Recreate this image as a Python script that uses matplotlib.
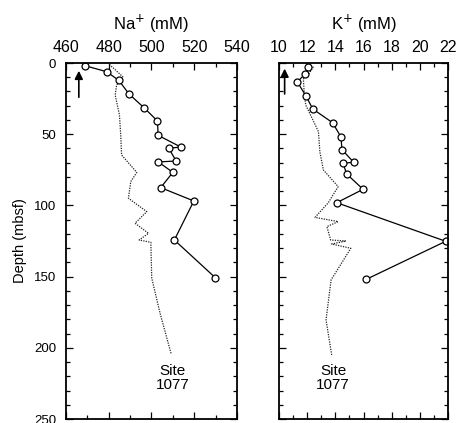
import matplotlib
matplotlib.use("Agg")
import matplotlib.pyplot as plt
from matplotlib.ticker import MultipleLocator

plt.rcParams['font.family'] = ['Liberation Sans', 'DejaVu Sans']

# Na+ measured (open circles)
na_vals = [468.9, 479.0, 484.7, 489.5, 496.5, 502.8, 503.1, 513.7, 508.1, 511.5, 503.2, 510.0, 504.3, 519.8, 510.7, 529.8]
na_depth = [1.9, 6.1, 12.2, 21.8, 31.4, 40.7, 50.8, 59.0, 59.9, 68.8, 69.5, 76.8, 87.5, 96.9, 124.3, 150.7]

# Na+ Site 1077 (dotted)
na1077_vals = [480.3, 486.8, 483.7, 483.0, 485.0, 485.6, 486.0, 493.1, 490.3, 489.2, 497.8, 492.3, 498.6, 494.2, 499.7, 500.1, 504.0, 509.2]
na1077_depth = [1.0, 10.0, 15.4, 22.5, 36.5, 50.5, 64.6, 76.8, 83.3, 95.0, 104.4, 112.5, 119.6, 124.3, 125.9, 151.0, 175.7, 204.3]

# K+ measured (open circles)
k_vals = [12.08, 11.85, 11.3, 11.9, 12.4, 13.8, 14.4, 14.47, 15.3, 14.55, 14.8, 15.97, 14.1, 21.84, 16.2]
k_depth = [3.0, 7.7, 13.3, 22.9, 32.3, 41.9, 51.9, 60.8, 69.7, 70.4, 77.9, 88.7, 98.1, 125.2, 151.9]

# K+ Site 1077 (dotted)
k1077_vals = [12.44, 12.15, 11.73, 11.8, 11.9, 12.8, 12.9, 13.15, 14.2, 13.5, 12.56, 14.2, 13.4, 13.67, 14.76, 13.74, 15.1, 13.7, 13.34, 13.74]
k1077_depth = [2.6, 7.2, 11.2, 22.5, 29.5, 48.2, 62.3, 75.1, 86.8, 98.1, 108.4, 111.4, 114.9, 124.3, 125.0, 127.1, 130.1, 152.3, 180.4, 205.0]

na_ticks = [460, 480, 500, 520, 540]
k_ticks = [10, 12, 14, 16, 18, 20, 22]
depth_ticks = [0, 50, 100, 150, 200, 250]

W, H = 464, 423
fig = plt.figure(figsize=(W / 100, H / 100), dpi=100)
top, bot = 63, 419
ax1 = fig.add_axes([66 / W, 1 - bot / H, (237 - 66) / W, (bot - top) / H])
ax2 = fig.add_axes([279 / W, 1 - bot / H, (448 - 279) / W, (bot - top) / H])


def style(ax, xlim, xmaj, xmin, ticks):
    ax.set_xlim(*xlim)
    ax.set_ylim(250, 0)
    ax.xaxis.set_major_locator(MultipleLocator(xmaj))
    ax.xaxis.set_minor_locator(MultipleLocator(xmin))
    ax.set_xticks(ticks)
    ax.yaxis.set_major_locator(MultipleLocator(50))
    ax.yaxis.set_minor_locator(MultipleLocator(10))
    ax.xaxis.tick_top()
    ax.xaxis.set_label_position('top')
    ax.tick_params(which='both', direction='in', top=True, bottom=True, left=True, right=True, width=0.9)
    ax.tick_params(which='major', length=5)
    ax.tick_params(which='minor', length=3)
    ax.tick_params(axis='x', labelsize=11.5, pad=6)
    ax.tick_params(axis='y', labelsize=9.5, pad=7)
    for s in ax.spines.values():
        s.set_linewidth(1.3)


style(ax1, (460, 540), 20, 10, na_ticks)
style(ax2, (10, 22), 2, 1, k_ticks)
ax2.tick_params(axis='y', labelleft=False)
ax1.set_yticks(depth_ticks)

ax1.plot(na1077_vals, na1077_depth, ls=(0, (1, 1.0)), color='#222222', lw=0.9)
ax1.plot(na_vals, na_depth, '-o', color='black', lw=0.9, ms=5, mfc='white', mec='black', mew=0.9)
ax2.plot(k1077_vals, k1077_depth, ls=(0, (1, 1.0)), color='#222222', lw=0.9)
ax2.plot(k_vals, k_depth, '-o', color='black', lw=0.9, ms=5, mfc='white', mec='black', mew=0.9)

ax1.annotate('', xy=(466, 3.5), xytext=(466, 26),
             arrowprops=dict(arrowstyle='-|>', color='black', lw=1.2, mutation_scale=12))
ax2.annotate('', xy=(10.4, 2.0), xytext=(10.4, 23.7),
             arrowprops=dict(arrowstyle='-|>', color='black', lw=1.2, mutation_scale=12))

ax1.text(510, 221, 'Site\n1077', ha='center', va='center', fontsize=11, linespacing=1.0)
ax2.text(13.85, 221, 'Site\n1077', ha='center', va='center', fontsize=11, linespacing=1.0)

ax1.set_xlabel('Na$^{+}$ (mM)', fontsize=12, labelpad=7)
ax2.set_xlabel('K$^{+}$ (mM)', fontsize=12, labelpad=7)
ax1.set_ylabel('Depth (mbsf)', fontsize=10.5, labelpad=5)

fig.savefig('out.png', dpi=100)
